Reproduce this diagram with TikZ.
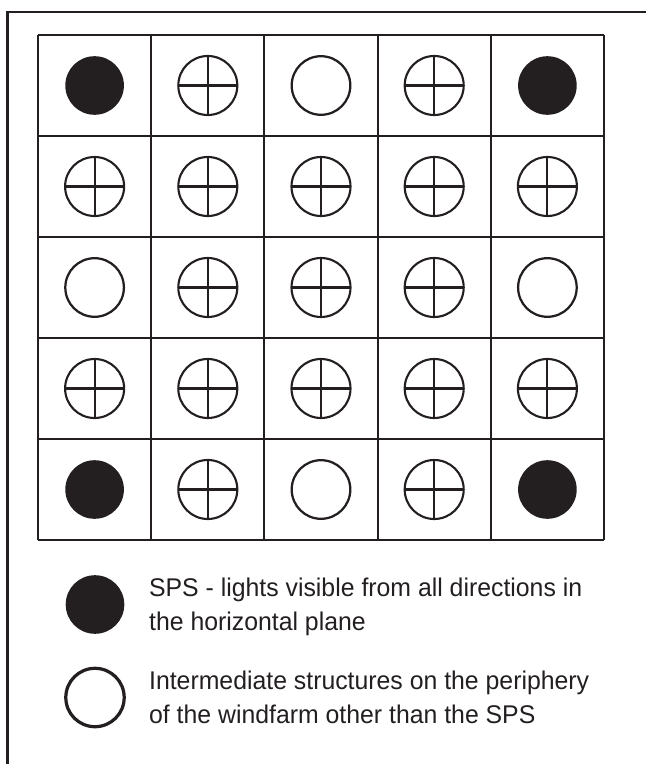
\documentclass[tikz,border=0pt]{standalone}
\usepackage{fontspec}
\setmainfont{Liberation Sans}[FakeStretch=0.97]
\usetikzlibrary{positioning}
\definecolor{inkblack}{RGB}{35,31,32}
\tikzset{
  framerule/.style={draw=inkblack,line width=4pt},
  gridrule/.style={draw=inkblack,line width=3pt},
  spslight/.style={fill=inkblack},
  periphlight/.style={draw=inkblack,line width=3.2pt},
  crossmark/.style={draw=inkblack,line width=3pt},
  legendtext/.style={text=inkblack,font=\fontsize{36.4}{47.7}\selectfont,align=left,inner sep=0pt}
}

\begin{document}
\begin{tikzpicture}[x=0.05cm,y=-0.05cm]
    \useasboundingbox (0,0) rectangle (646,764);
    % outer frame, open to the right and below
    \draw[framerule] (646,12) -- (7.4,12) -- (7.4,764);
    % 5 x 5 grid of cells
    \foreach \i in {0,...,5} {
      \draw[gridrule] ({38+113.2*\i},35) -- ({38+113.2*\i},540);
      \draw[gridrule] (38,{35+101*\i}) -- (604,{35+101*\i});
    }
    % SPS in the four corners
    \foreach \c/\r in {1/1,5/1,1/5,5/5}
      \fill[spslight] ({38+113.2*(\c-.5)},{35+101*(\r-.5)}) circle (29.3);
    % intermediate structures on the periphery
    \foreach \c/\r in {3/1,1/3,5/3,3/5}
      \draw[periphlight] ({38+113.2*(\c-.5)},{35+101*(\r-.5)}) circle (29.3);
    % all other structures
    \foreach \c/\r in {2/1,4/1,1/2,2/2,3/2,4/2,5/2,2/3,3/3,4/3,1/4,2/4,3/4,4/4,5/4,2/5,4/5} {
      \draw[crossmark] ({38+113.2*(\c-.5)},{35+101*(\r-.5)}) circle (29.5);
      \draw[crossmark] ({38+113.2*(\c-.5)-29.5},{35+101*(\r-.5)}) -- ++(59,0);
      \draw[crossmark] ({38+113.2*(\c-.5)},{35+101*(\r-.5)-29.5}) -- ++(0,59);
    }
    % legend
    \fill[spslight] (95,604.5) circle (29.3);
    \node[legendtext,anchor=base west] (spskey) at (149,630.5)
      {SPS - lights visible from all directions in\\the horizontal plane};
    \draw[periphlight,line width=4.6pt] (95,697.5) circle (29.2);
    \node[legendtext,anchor=base west] (periphkey) at (149,723)
      {Intermediate structures on the periphery\\of the windfarm other than the SPS};
  \end{tikzpicture}
\end{document}
